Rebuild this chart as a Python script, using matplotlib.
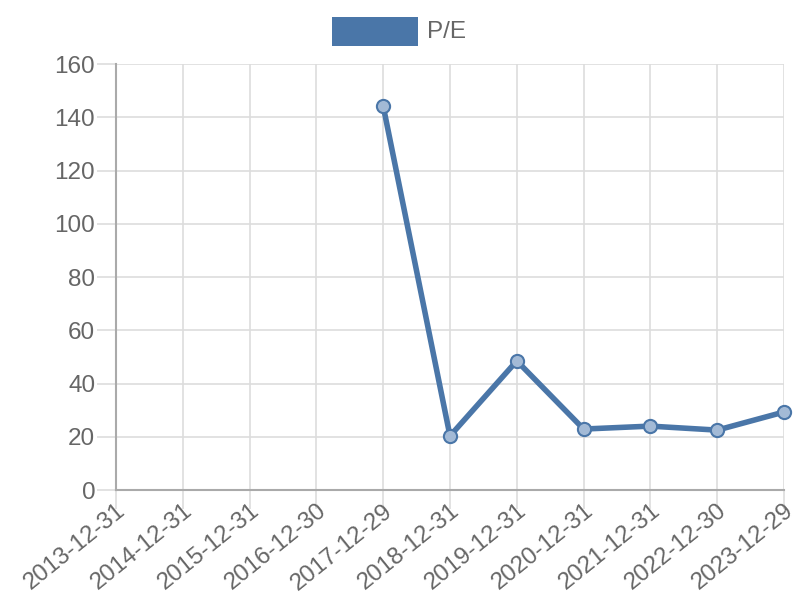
import numpy as np
import matplotlib.pyplot as plt
from matplotlib.patches import Rectangle

plt.rcParams['font.family'] = ['Liberation Sans', 'DejaVu Sans']

dates = ["2013-12-31", "2014-12-31", "2015-12-31", "2016-12-30", "2017-12-29",
         "2018-12-31", "2019-12-31", "2020-12-31", "2021-12-31", "2022-12-30",
         "2023-12-29"]
pe = [np.nan, np.nan, np.nan, np.nan, 144.2, 20.3, 48.5, 22.9, 24.0, 22.5, 29.3]
yticks = [0, 20, 40, 60, 80, 100, 120, 140, 160]

line_color = "#4a76a8"
text_color = "#666666"

fig = plt.figure(figsize=(8, 6), dpi=100)
ax = fig.add_axes([0.145, 0.1833, 0.835, 0.71])

x = np.arange(len(dates))
ax.plot(x, pe, color=line_color, lw=4, zorder=3, clip_on=False)
ax.plot(x, pe, linestyle="none", marker="o", ms=9.5, mfc="#a3bad6", mec=line_color,
        mew=1.5, zorder=4, clip_on=False)

ax.set_xlim(0, len(dates) - 1)
ax.set_ylim(0, 160)
ax.set_yticks(yticks)
ax.set_xticks(x)
ax.set_xticklabels(dates, rotation=39, ha="right", rotation_mode="anchor")

ax.grid(True, color="#dddddd", lw=1.2)
ax.set_axisbelow(True)
for s in ["top", "right"]:
    ax.spines[s].set_visible(False)
for s in ["left", "bottom"]:
    ax.spines[s].set_color("#aaaaaa")
    ax.spines[s].set_linewidth(1.5)
ax.tick_params(axis="both", colors="#dddddd", labelcolor=text_color, labelsize=17.5,
               length=14, width=1.2, pad=1)
ax.tick_params(axis="x", labelsize=17.3, pad=-7)

# legend box on top
fig.patches.append(Rectangle((332 / 800, 1 - 46 / 600), 86 / 800, 29 / 600,
                             transform=fig.transFigure, facecolor=line_color,
                             edgecolor="none"))
fig.text(427 / 800, 1 - 32 / 600, "P/E", color=text_color, fontsize=17.5,
         va="center", ha="left")

fig.savefig("out.png", dpi=100)
